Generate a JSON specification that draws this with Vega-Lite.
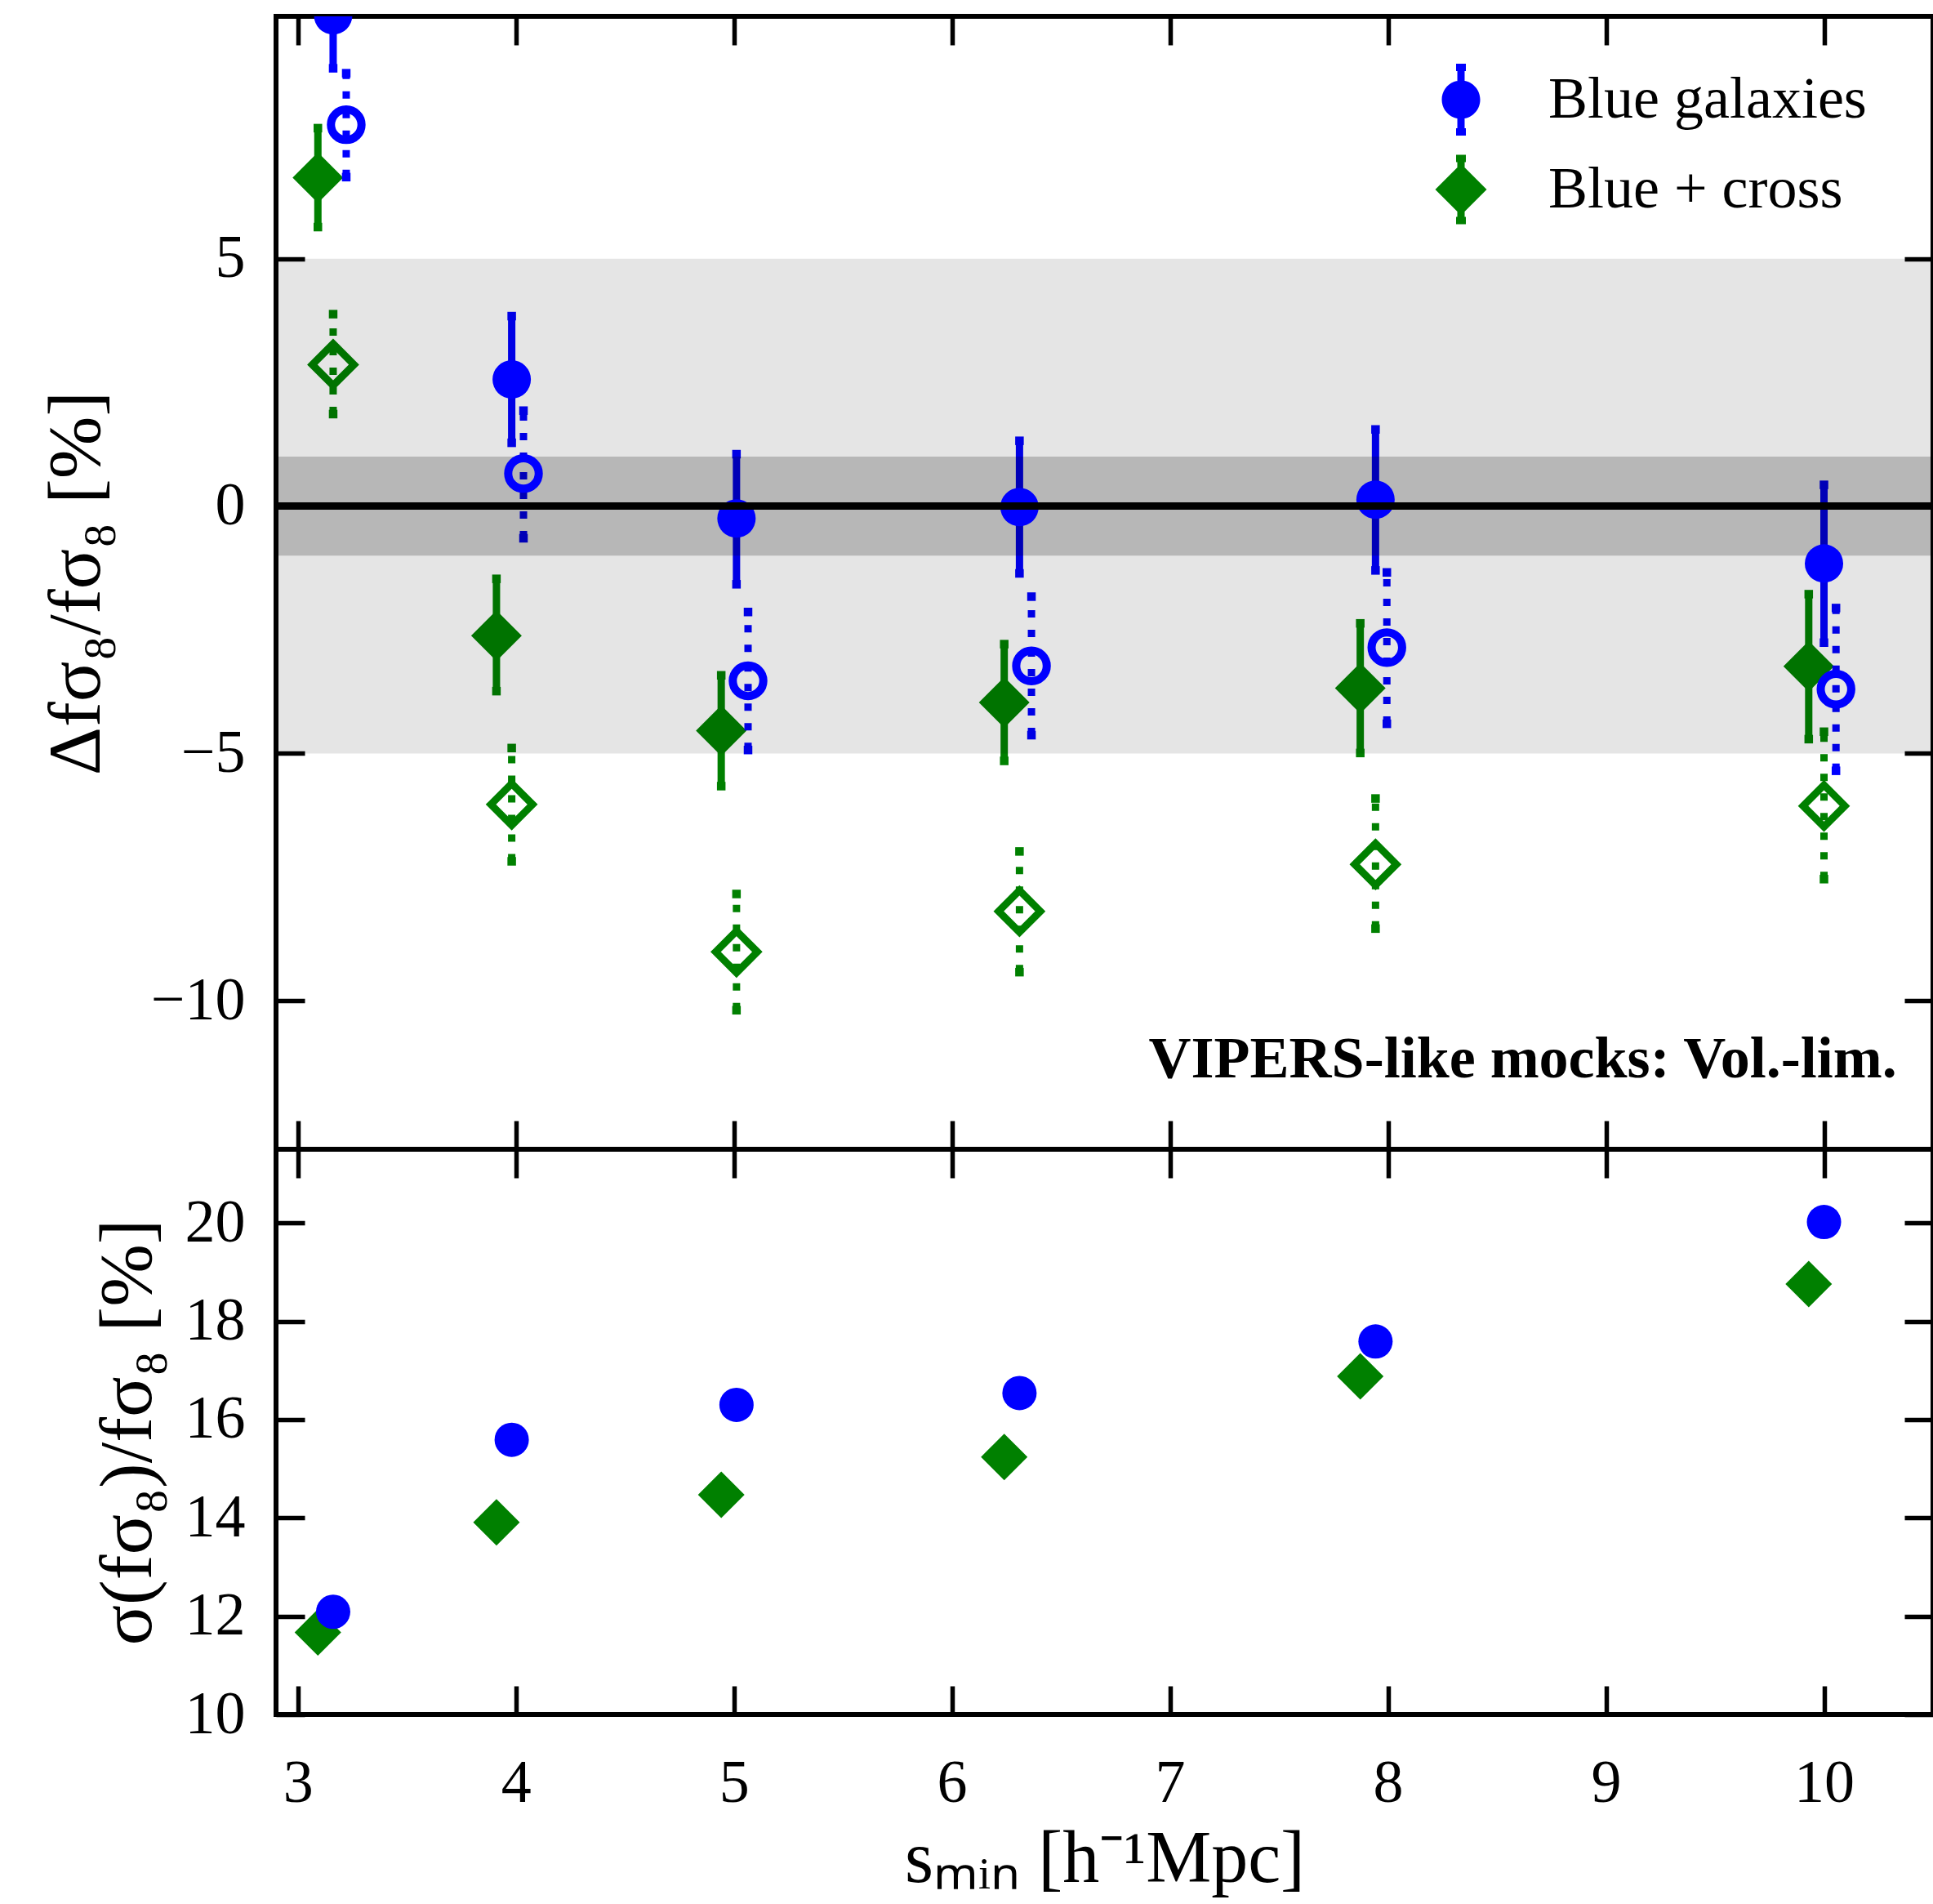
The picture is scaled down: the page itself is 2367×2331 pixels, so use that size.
{
  "$schema": "https://vega.github.io/schema/vega-lite/v6.json",
  "padding": {"left": 44, "top": 14, "right": 0, "bottom": 0},
  "background": "white",
  "datasets": {
    "shift": [
      {"s": 3.162, "val": 9.92, "lo": 8.85, "hi": 11.0, "sample": "Blue galaxies", "run": "main"},
      {"s": 3.981, "val": 2.56, "lo": 1.28, "hi": 3.84, "sample": "Blue galaxies", "run": "main"},
      {"s": 5.012, "val": -0.25, "lo": -1.58, "hi": 1.05, "sample": "Blue galaxies", "run": "main"},
      {"s": 6.31, "val": -0.02, "lo": -1.36, "hi": 1.32, "sample": "Blue galaxies", "run": "main"},
      {"s": 7.943, "val": 0.13, "lo": -1.3, "hi": 1.55, "sample": "Blue galaxies", "run": "main"},
      {"s": 10.0, "val": -1.16, "lo": -2.76, "hi": 0.43, "sample": "Blue galaxies", "run": "main"},
      {"s": 3.222, "val": 7.71, "lo": 6.65, "hi": 8.75, "sample": "Blue galaxies", "run": "alt"},
      {"s": 4.035, "val": 0.66, "lo": -0.65, "hi": 1.93, "sample": "Blue galaxies", "run": "alt"},
      {"s": 5.065, "val": -3.53, "lo": -4.93, "hi": -2.14, "sample": "Blue galaxies", "run": "alt"},
      {"s": 6.365, "val": -3.23, "lo": -4.63, "hi": -1.83, "sample": "Blue galaxies", "run": "alt"},
      {"s": 7.995, "val": -2.86, "lo": -4.4, "hi": -1.34, "sample": "Blue galaxies", "run": "alt"},
      {"s": 10.055, "val": -3.7, "lo": -5.35, "hi": -2.06, "sample": "Blue galaxies", "run": "alt"},
      {"s": 3.092, "val": 6.64, "lo": 5.64, "hi": 7.64, "sample": "Blue + cross", "run": "main"},
      {"s": 3.911, "val": -2.62, "lo": -3.74, "hi": -1.47, "sample": "Blue + cross", "run": "main"},
      {"s": 4.942, "val": -4.54, "lo": -5.66, "hi": -3.42, "sample": "Blue + cross", "run": "main"},
      {"s": 6.24, "val": -3.97, "lo": -5.15, "hi": -2.79, "sample": "Blue + cross", "run": "main"},
      {"s": 7.873, "val": -3.68, "lo": -4.99, "hi": -2.37, "sample": "Blue + cross", "run": "main"},
      {"s": 9.93, "val": -3.24, "lo": -4.71, "hi": -1.78, "sample": "Blue + cross", "run": "main"},
      {"s": 3.162, "val": 2.86, "lo": 1.86, "hi": 3.88, "sample": "Blue + cross", "run": "alt"},
      {"s": 3.981, "val": -6.03, "lo": -7.18, "hi": -4.89, "sample": "Blue + cross", "run": "alt"},
      {"s": 5.012, "val": -9.01, "lo": -10.19, "hi": -7.84, "sample": "Blue + cross", "run": "alt"},
      {"s": 6.31, "val": -8.19, "lo": -9.42, "hi": -6.98, "sample": "Blue + cross", "run": "alt"},
      {"s": 7.943, "val": -7.24, "lo": -8.54, "hi": -5.91, "sample": "Blue + cross", "run": "alt"},
      {"s": 10.0, "val": -6.06, "lo": -7.54, "hi": -4.56, "sample": "Blue + cross", "run": "alt"}
    ],
    "scatter": [
      {"s": 3.162, "sigma": 12.09, "sample": "Blue galaxies"},
      {"s": 3.981, "sigma": 15.59, "sample": "Blue galaxies"},
      {"s": 5.012, "sigma": 16.3, "sample": "Blue galaxies"},
      {"s": 6.31, "sigma": 16.54, "sample": "Blue galaxies"},
      {"s": 7.943, "sigma": 17.59, "sample": "Blue galaxies"},
      {"s": 10.0, "sigma": 20.02, "sample": "Blue galaxies"},
      {"s": 3.092, "sigma": 11.67, "sample": "Blue + cross"},
      {"s": 3.911, "sigma": 13.91, "sample": "Blue + cross"},
      {"s": 4.942, "sigma": 14.47, "sample": "Blue + cross"},
      {"s": 6.24, "sigma": 15.24, "sample": "Blue + cross"},
      {"s": 7.873, "sigma": 16.88, "sample": "Blue + cross"},
      {"s": 9.93, "sigma": 18.76, "sample": "Blue + cross"}
    ],
    "bands": [
      {"lo": -5, "hi": 5, "level": "wide"},
      {"lo": -1, "hi": 1, "level": "narrow"}
    ],
    "reference": [{"y": 0}],
    "note": [{"x": 10.334, "y": -11.54, "label": "VIPERS-like mocks: Vol.-lim."}]
  },
  "spacing": 0,
  "bounds": "flush",
  "vconcat": [
    {
      "width": 2029,
      "height": 1387,
      "layer": [
        {
          "layer": [
            {
              "data": {"name": "shift"},
              "transform": [{"filter": "datum.sample === 'Blue + cross' && datum.run === 'main'"}],
              "mark": {"type": "rule", "color": "#008000", "strokeWidth": 9, "clip": true},
              "encoding": {
                "x": {"field": "s", "type": "quantitative", "scale": {"domain": [2.9, 10.5], "nice": false}, "axis": {"values": [3, 4, 5, 6, 7, 8, 9, 10], "labels": false, "title": null}},
                "y": {"field": "lo", "type": "quantitative", "scale": {"domain": [-13, 9.9], "nice": false, "zero": false}, "axis": {"values": [-10, -5, 0, 5], "title": "Δfσ₈/fσ₈ [%]", "titleX": -217, "titleBaseline": "alphabetic"}},
                "y2": {"field": "hi"}
              }
            },
            {
              "data": {"name": "shift"},
              "transform": [{"filter": "datum.sample === 'Blue + cross' && datum.run === 'main'"}, {"fold": ["lo", "hi"], "as": ["end", "v"]}],
              "mark": {"type": "point", "shape": "square", "filled": true, "color": "#008000", "size": 110, "opacity": 1, "strokeWidth": 0, "clip": true},
              "encoding": {
                "x": {"field": "s", "type": "quantitative"},
                "y": {"field": "v", "type": "quantitative"}
              }
            },
            {
              "data": {"name": "shift"},
              "transform": [{"filter": "datum.sample === 'Blue + cross' && datum.run === 'alt'"}],
              "mark": {"type": "rule", "color": "#008000", "strokeWidth": 9, "strokeDash": [9, 15], "strokeCap": "butt", "clip": true},
              "encoding": {
                "x": {"field": "s", "type": "quantitative"},
                "y": {"field": "lo", "type": "quantitative"},
                "y2": {"field": "hi"}
              }
            },
            {
              "data": {"name": "shift"},
              "transform": [{"filter": "datum.sample === 'Blue + cross' && datum.run === 'alt'"}, {"fold": ["lo", "hi"], "as": ["end", "v"]}],
              "mark": {"type": "point", "shape": "square", "filled": true, "color": "#008000", "size": 110, "opacity": 1, "strokeWidth": 0, "clip": true},
              "encoding": {
                "x": {"field": "s", "type": "quantitative"},
                "y": {"field": "v", "type": "quantitative"}
              }
            },
            {
              "data": {"name": "shift"},
              "transform": [{"filter": "datum.sample === 'Blue + cross' && datum.run === 'main'"}],
              "mark": {"type": "point", "shape": "diamond", "filled": true, "color": "#008000", "size": 3844, "opacity": 1, "strokeWidth": 0, "clip": true},
              "encoding": {
                "x": {"field": "s", "type": "quantitative"},
                "y": {"field": "val", "type": "quantitative"}
              }
            },
            {
              "data": {"name": "shift"},
              "transform": [{"filter": "datum.sample === 'Blue + cross' && datum.run === 'alt'"}],
              "mark": {"type": "point", "shape": "diamond", "filled": false, "color": "#008000", "size": 2600, "strokeWidth": 9, "opacity": 1, "clip": true},
              "encoding": {
                "x": {"field": "s", "type": "quantitative"},
                "y": {"field": "val", "type": "quantitative"}
              }
            },
            {
              "data": {"name": "shift"},
              "transform": [{"filter": "datum.sample === 'Blue galaxies' && datum.run === 'main'"}],
              "mark": {"type": "rule", "color": "#0000ff", "strokeWidth": 9, "clip": true},
              "encoding": {
                "x": {"field": "s", "type": "quantitative"},
                "y": {"field": "lo", "type": "quantitative"},
                "y2": {"field": "hi"}
              }
            },
            {
              "data": {"name": "shift"},
              "transform": [{"filter": "datum.sample === 'Blue galaxies' && datum.run === 'main'"}, {"fold": ["lo", "hi"], "as": ["end", "v"]}],
              "mark": {"type": "point", "shape": "square", "filled": true, "color": "#0000ff", "size": 110, "opacity": 1, "strokeWidth": 0, "clip": true},
              "encoding": {
                "x": {"field": "s", "type": "quantitative"},
                "y": {"field": "v", "type": "quantitative"}
              }
            },
            {
              "data": {"name": "shift"},
              "transform": [{"filter": "datum.sample === 'Blue galaxies' && datum.run === 'alt'"}],
              "mark": {"type": "rule", "color": "#0000ff", "strokeWidth": 9, "strokeDash": [9, 15], "strokeCap": "butt", "clip": true},
              "encoding": {
                "x": {"field": "s", "type": "quantitative"},
                "y": {"field": "lo", "type": "quantitative"},
                "y2": {"field": "hi"}
              }
            },
            {
              "data": {"name": "shift"},
              "transform": [{"filter": "datum.sample === 'Blue galaxies' && datum.run === 'alt'"}, {"fold": ["lo", "hi"], "as": ["end", "v"]}],
              "mark": {"type": "point", "shape": "square", "filled": true, "color": "#0000ff", "size": 110, "opacity": 1, "strokeWidth": 0, "clip": true},
              "encoding": {
                "x": {"field": "s", "type": "quantitative"},
                "y": {"field": "v", "type": "quantitative"}
              }
            },
            {
              "data": {"name": "bands"},
              "transform": [{"filter": "datum.level === 'wide'"}],
              "mark": {"type": "rect", "color": "black", "opacity": 0.1},
              "encoding": {
                "y": {"field": "lo", "type": "quantitative"},
                "y2": {"field": "hi"}
              }
            },
            {
              "data": {"name": "bands"},
              "transform": [{"filter": "datum.level === 'narrow'"}],
              "mark": {"type": "rect", "color": "black", "opacity": 0.2},
              "encoding": {
                "y": {"field": "lo", "type": "quantitative"},
                "y2": {"field": "hi"}
              }
            },
            {
              "data": {"name": "shift"},
              "transform": [{"filter": "datum.sample === 'Blue galaxies' && datum.run === 'main'"}],
              "mark": {"type": "point", "shape": "circle", "filled": true, "color": "#0000ff", "size": 2209, "opacity": 1, "strokeWidth": 0, "clip": true},
              "encoding": {
                "x": {"field": "s", "type": "quantitative"},
                "y": {"field": "val", "type": "quantitative"}
              }
            },
            {
              "data": {"name": "shift"},
              "transform": [{"filter": "datum.sample === 'Blue galaxies' && datum.run === 'alt'"}],
              "mark": {"type": "point", "shape": "circle", "filled": false, "color": "#0000ff", "size": 1400, "strokeWidth": 10, "opacity": 1, "clip": true},
              "encoding": {
                "x": {"field": "s", "type": "quantitative"},
                "y": {"field": "val", "type": "quantitative"}
              }
            },
            {
              "data": {"name": "shift"},
              "transform": [{"filter": "false"}],
              "mark": {"type": "point", "filled": true, "opacity": 1, "strokeWidth": 0},
              "encoding": {
                "x": {"field": "s", "type": "quantitative"},
                "y": {"field": "val", "type": "quantitative"},
                "color": {"field": "sample", "type": "nominal", "scale": {"domain": ["Blue galaxies", "Blue + cross"], "range": ["#0000ff", "#008000"]}, "legend": {"title": null}},
                "shape": {"field": "sample", "type": "nominal", "scale": {"domain": ["Blue galaxies", "Blue + cross"], "range": [
                  "M1,0A1,1,0,1,1,-1,0A1,1,0,1,1,1,0ZM-0.19,-1.6H0.19V-0.95H-0.19ZM-0.255,-1.87H0.255V-1.49H-0.255ZM-0.19,0.95H0.19V1.6H-0.19ZM-0.255,1.49H0.255V1.87H-0.255Z",
                  "M-1,0L0,-1L1,0L0,1ZM-0.143,-1.2H0.143V-0.8H-0.143ZM-0.19,-1.35H0.19V-1.06H-0.19ZM-0.143,0.8H0.143V1.2H-0.143ZM-0.19,1.06H0.19V1.35H-0.19Z"
                ]}, "legend": {"title": null}},
                "size": {"field": "sample", "type": "nominal", "scale": {"domain": ["Blue galaxies", "Blue + cross"], "range": [2209, 3969]}, "legend": {"title": null}}
              }
            },
            {
              "data": {"name": "reference"},
              "mark": {"type": "rule", "color": "black", "strokeWidth": 9},
              "encoding": {
                "y": {"field": "y", "type": "quantitative"}
              }
            },
            {
              "data": {"name": "note"},
              "mark": {"type": "text", "align": "right", "baseline": "alphabetic", "font": "Liberation Serif", "fontSize": 72, "fontWeight": "bold", "color": "black"},
              "encoding": {
                "x": {"field": "x", "type": "quantitative"},
                "y": {"field": "y", "type": "quantitative"},
                "text": {"field": "label"}
              }
            }
          ]
        },
        {
          "data": {"values": [{"x": 5, "y": 0}]},
          "mark": {"type": "point", "opacity": 0},
          "encoding": {
            "x": {"field": "x", "type": "quantitative", "scale": {"domain": [2.9, 10.5], "nice": false}, "axis": {"orient": "top", "values": [3, 4, 5, 6, 7, 8, 9, 10], "labels": false, "title": null}},
            "y": {"field": "y", "type": "quantitative", "scale": {"domain": [-13, 9.9], "nice": false, "zero": false}, "axis": {"orient": "right", "values": [-10, -5, 0, 5], "labels": false, "title": null}}
          }
        }
      ],
      "resolve": {"axis": {"x": "independent", "y": "independent"}}
    },
    {
      "width": 2029,
      "height": 692,
      "layer": [
        {
          "layer": [
            {
              "data": {"name": "scatter"},
              "transform": [{"filter": "datum.sample === 'Blue + cross'"}],
              "mark": {"type": "point", "shape": "diamond", "filled": true, "color": "#008000", "size": 3249, "opacity": 1, "strokeWidth": 0, "clip": true},
              "encoding": {
                "x": {"field": "s", "type": "quantitative", "scale": {"domain": [2.9, 10.5], "nice": false}, "axis": {"values": [3, 4, 5, 6, 7, 8, 9, 10], "title": "sₘᵢₙ [h⁻¹Mpc]", "titleY": 204, "titleBaseline": "alphabetic", "titleFontSize": 90}},
                "y": {"field": "sigma", "type": "quantitative", "scale": {"domain": [10, 21.5], "nice": false, "zero": false}, "axis": {"values": [10, 12, 14, 16, 18, 20], "title": "σ(fσ₈)/fσ₈ [%]", "titleX": -154, "titleBaseline": "alphabetic"}}
              }
            },
            {
              "data": {"name": "scatter"},
              "transform": [{"filter": "datum.sample === 'Blue galaxies'"}],
              "mark": {"type": "point", "shape": "circle", "filled": true, "color": "#0000ff", "size": 1764, "opacity": 1, "strokeWidth": 0, "clip": true},
              "encoding": {
                "x": {"field": "s", "type": "quantitative"},
                "y": {"field": "sigma", "type": "quantitative"}
              }
            }
          ]
        },
        {
          "data": {"values": [{"x": 5, "y": 15}]},
          "mark": {"type": "point", "opacity": 0},
          "encoding": {
            "x": {"field": "x", "type": "quantitative", "scale": {"domain": [2.9, 10.5], "nice": false}, "axis": {"orient": "top", "values": [3, 4, 5, 6, 7, 8, 9, 10], "labels": false, "title": null}},
            "y": {"field": "y", "type": "quantitative", "scale": {"domain": [10, 21.5], "nice": false, "zero": false}, "axis": {"orient": "right", "values": [10, 12, 14, 16, 18, 20], "labels": false, "title": null}}
          }
        }
      ],
      "resolve": {"axis": {"x": "independent", "y": "independent"}}
    }
  ],
  "resolve": {
    "scale": {"x": "independent", "y": "independent", "color": "independent", "shape": "independent", "size": "independent"},
    "legend": {"color": "independent", "shape": "independent", "size": "independent"}
  },
  "config": {
    "font": "Liberation Serif",
    "view": {"stroke": "black", "strokeWidth": 6},
    "axis": {
      "domain": false,
      "grid": false,
      "format": "d",
      "tickColor": "black",
      "tickWidth": 5.5,
      "tickSize": -35,
      "labelFont": "Liberation Serif",
      "labelFontSize": 74,
      "labelColor": "black",
      "labelFlush": false,
      "labelOverlap": false,
      "titleFont": "Liberation Serif",
      "titleFontSize": 92,
      "titleFontWeight": "normal",
      "titleColor": "black"
    },
    "axisX": {"labelPadding": 141, "labelBaseline": "alphabetic"},
    "axisY": {"labelPadding": 73},
    "legend": {
      "orient": "none",
      "legendX": 1415,
      "legendY": 66,
      "padding": 0,
      "labelFont": "Liberation Serif",
      "labelFontSize": 72,
      "labelColor": "black",
      "labelOffset": 71,
      "labelLimit": 1000,
      "rowPadding": 23,
      "symbolStrokeWidth": 0,
      "symbolOpacity": 1
    }
  }
}
